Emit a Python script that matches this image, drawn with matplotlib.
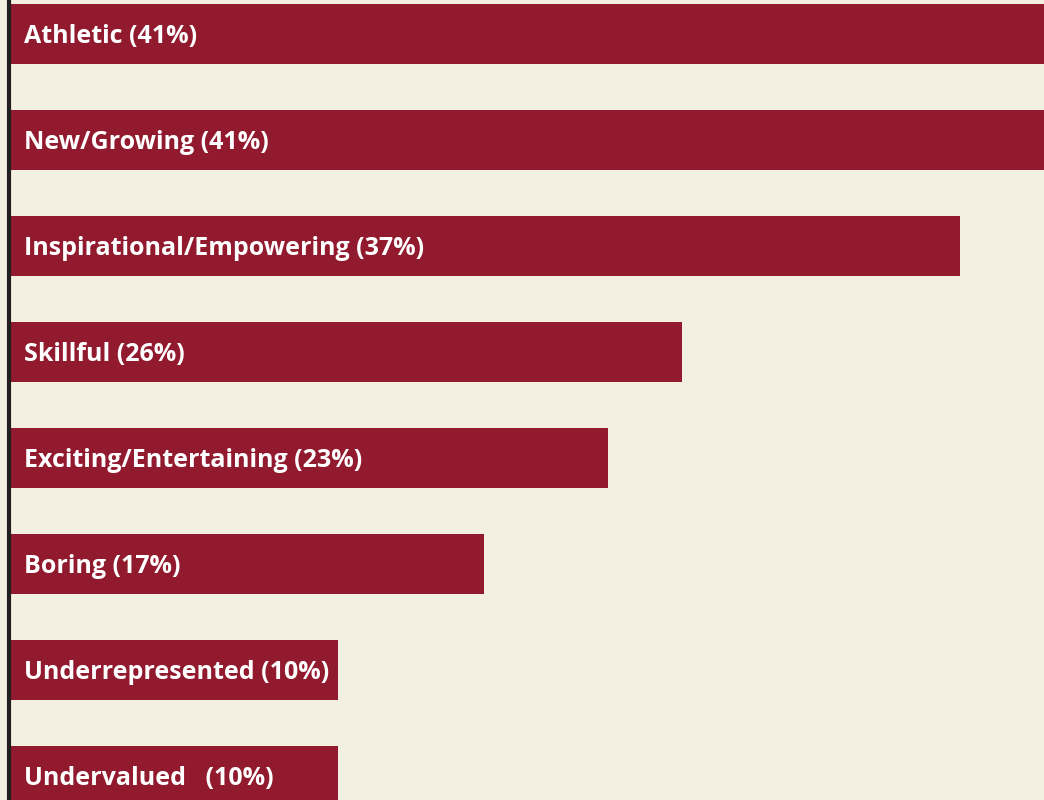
import matplotlib.pyplot as plt

# Data
labels = ["Athletic (41%)", "New/Growing (41%)", "Inspirational/Empowering (37%)",
          "Skillful (26%)", "Exciting/Entertaining (23%)", "Boring (17%)",
          "Underrepresented (10%)", "Undervalued   (10%)"]
values = [41, 41, 37.0, 26.2, 23.3, 18.5, 12.8, 12.8]

bg = "#F3F0E2"
bar_color = "#921A2E"

fig = plt.figure(figsize=(10.44, 8), dpi=100)
fig.patch.set_facecolor(bg)
ax = fig.add_axes([9 / 1044, 0, 1 - 9 / 1044, 1])
ax.set_facecolor(bg)

pos = list(range(len(labels)))
ax.barh(pos, values, height=0.566, color=bar_color, zorder=2)

for p, lab in zip(pos, labels):
    ax.text(0.58, p + 0.02, lab, color="white", fontsize=18, fontweight="bold",
            family="Open Sans", va="center", ha="left", zorder=3)

ax.set_xlim(0, 40.27)
ax.set_ylim(7.226, -0.32)

for s in ["top", "right", "bottom"]:
    ax.spines[s].set_visible(False)
ax.spines["left"].set_color("#231F20")
ax.spines["left"].set_linewidth(3)
ax.spines["left"].set_zorder(4)
ax.set_xticks([])
ax.set_yticks([])

fig.savefig("out.png", dpi=100, facecolor=bg)
